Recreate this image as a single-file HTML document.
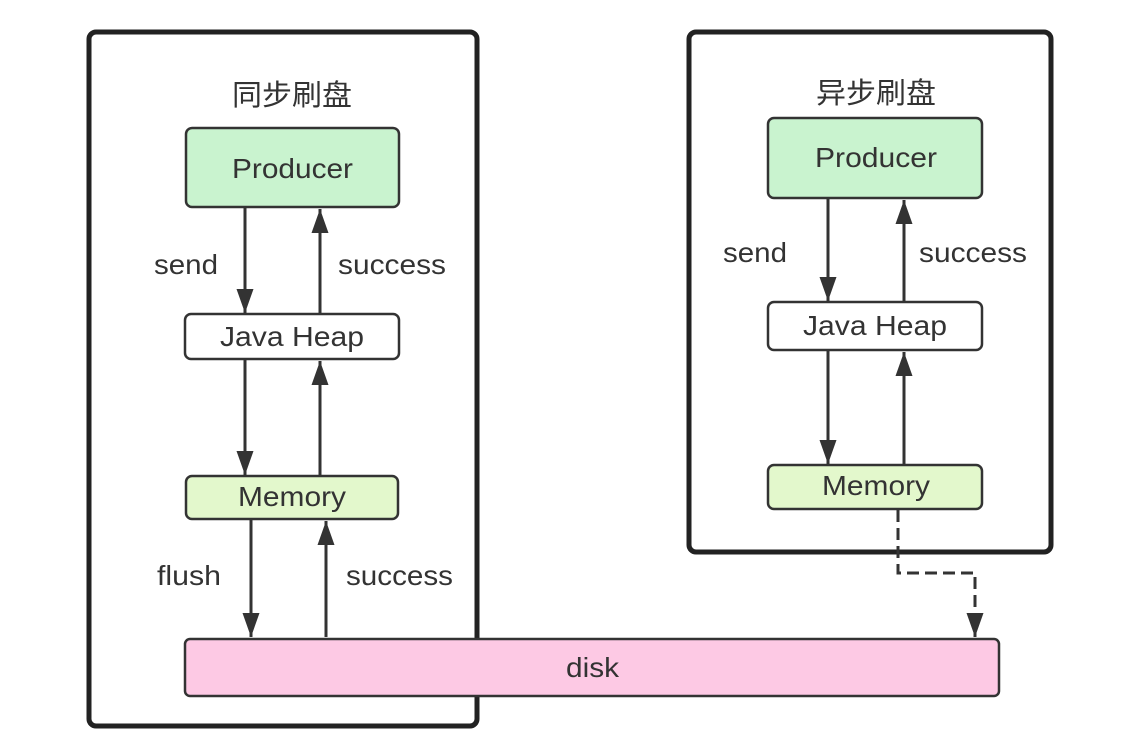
<!DOCTYPE html>
<html><head><meta charset="utf-8"><style>
html,body{margin:0;padding:0;background:#fff;width:1146px;height:755px;overflow:hidden}
text{font-family:"Liberation Sans","Noto Sans CJK SC",sans-serif;fill:#333}
</style></head><body>
<svg width="1146" height="755" viewBox="0 0 1146 755" xmlns="http://www.w3.org/2000/svg">
<defs>
<marker id="b" viewBox="0 0 10 10" refX="10" refY="5" markerWidth="24" markerHeight="17" markerUnits="userSpaceOnUse" orient="auto" preserveAspectRatio="none">
<path d="M0,0 L10,5 L0,10 z" fill="#333"/></marker>
</defs>
<rect x="89" y="32" width="388" height="694" rx="7" fill="none" stroke="#222" stroke-width="5"/>
<rect x="689" y="32" width="362" height="520" rx="7" fill="none" stroke="#222" stroke-width="5"/>
<text x="232" y="105" font-size="29" textLength="120" lengthAdjust="spacingAndGlyphs">同步刷盘</text>
<text x="816" y="103" font-size="29" textLength="120" lengthAdjust="spacingAndGlyphs">异步刷盘</text>
<rect x="186" y="128" width="213" height="79" rx="6" fill="#c9f3cf" stroke="#333" stroke-width="2.5"/>
<text x="232" y="178" font-size="28" textLength="121" lengthAdjust="spacingAndGlyphs">Producer</text>
<rect x="185" y="314" width="214" height="45" rx="6" fill="#fff" stroke="#333" stroke-width="2.5"/>
<text x="220" y="346" font-size="28" textLength="144" lengthAdjust="spacingAndGlyphs">Java Heap</text>
<rect x="186" y="476" width="212" height="43" rx="6" fill="#e3f8cc" stroke="#333" stroke-width="2.5"/>
<text x="238" y="506" font-size="28" textLength="108" lengthAdjust="spacingAndGlyphs">Memory</text>
<rect x="768" y="118" width="214" height="80" rx="6" fill="#c9f3cf" stroke="#333" stroke-width="2.5"/>
<text x="815" y="167" font-size="28" textLength="122" lengthAdjust="spacingAndGlyphs">Producer</text>
<rect x="768" y="302" width="214" height="48" rx="6" fill="#fff" stroke="#333" stroke-width="2.5"/>
<text x="803" y="335" font-size="28" textLength="144" lengthAdjust="spacingAndGlyphs">Java Heap</text>
<rect x="768" y="465" width="214" height="44" rx="6" fill="#e3f8cc" stroke="#333" stroke-width="2.5"/>
<text x="822" y="495" font-size="28" textLength="108" lengthAdjust="spacingAndGlyphs">Memory</text>
<rect x="185" y="639" width="814" height="57" rx="5" fill="#fdc9e4" stroke="#333" stroke-width="2.5"/>
<text x="566" y="677" font-size="28" textLength="53" lengthAdjust="spacingAndGlyphs">disk</text>
<g stroke="#333" stroke-width="3" fill="none">
<line x1="245" y1="208" x2="245" y2="313" marker-end="url(#b)"/>
<line x1="320" y1="313" x2="320" y2="209" marker-end="url(#b)"/>
<line x1="245" y1="360" x2="245" y2="475" marker-end="url(#b)"/>
<line x1="320" y1="475" x2="320" y2="361" marker-end="url(#b)"/>
<line x1="251" y1="520" x2="251" y2="637" marker-end="url(#b)"/>
<line x1="326" y1="637" x2="326" y2="521" marker-end="url(#b)"/>
<line x1="828" y1="199" x2="828" y2="301" marker-end="url(#b)"/>
<line x1="904" y1="301" x2="904" y2="200" marker-end="url(#b)"/>
<line x1="828" y1="351" x2="828" y2="464" marker-end="url(#b)"/>
<line x1="904" y1="464" x2="904" y2="352" marker-end="url(#b)"/>
<path d="M898,510 L898,573 L975,573 L975,637" stroke-dasharray="12,6" marker-end="url(#b)"/>
</g>
<text x="154" y="274" font-size="28" textLength="64" lengthAdjust="spacingAndGlyphs">send</text>
<text x="338" y="274" font-size="28" textLength="108" lengthAdjust="spacingAndGlyphs">success</text>
<text x="157" y="585" font-size="28" textLength="64" lengthAdjust="spacingAndGlyphs">flush</text>
<text x="346" y="585" font-size="28" textLength="107" lengthAdjust="spacingAndGlyphs">success</text>
<text x="723" y="262" font-size="28" textLength="64" lengthAdjust="spacingAndGlyphs">send</text>
<text x="919" y="262" font-size="28" textLength="108" lengthAdjust="spacingAndGlyphs">success</text>
</svg>
</body></html>
